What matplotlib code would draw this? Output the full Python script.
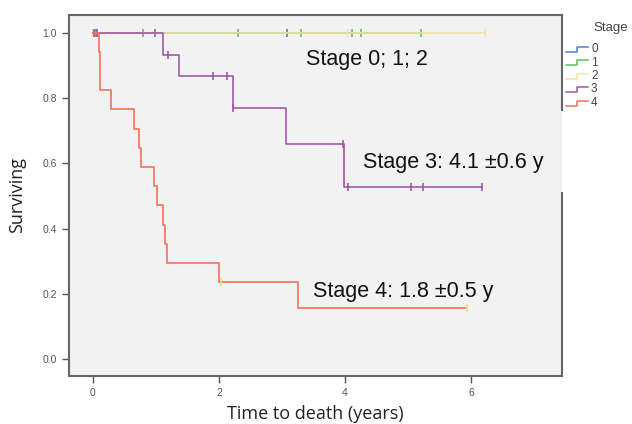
import numpy as np
import matplotlib
matplotlib.use("Agg")
import matplotlib.pyplot as plt
from matplotlib.lines import Line2D

# Kaplan-Meier steps (time in years, survival fraction)
stage4_t = [0, 0.10, 0.11, 0.12, 0.29, 0.65, 0.73, 0.77, 0.97, 1.01, 1.11, 1.14, 1.18, 2.00, 3.26, 5.93]
stage4_s = [1.0, 0.941, 0.882, 0.824, 0.765, 0.706, 0.647, 0.588, 0.529, 0.471, 0.412, 0.353, 0.294, 0.235, 0.157, 0.157]
stage4_cens = [2.03, 5.93]

stage3_t = [0, 1.11, 1.37, 2.22, 3.06, 3.99, 6.17]
stage3_s = [1.0, 0.933, 0.867, 0.770, 0.660, 0.528, 0.528]
stage3_cens = [0.02, 0.07, 1.19, 1.90, 2.13, 2.23, 3.97, 4.05, 5.05, 5.24, 6.17]

stage0_t = [0, 3.08]
stage0_s = [1.0, 1.0]
stage0_cens = [0.05, 0.98, 3.08]

stage1_t = [0, 5.20]
stage1_s = [1.0, 1.0]
stage1_cens = [0.03, 0.79, 2.30, 3.31, 4.11, 4.25, 5.20]

stage2_t = [0, 6.22]
stage2_s = [1.0, 1.0]
stage2_cens = [0.01, 4.03, 6.22]

stages = ["0", "1", "2", "3", "4"]
colors = ["#4f7fd6", "#5cc05c", "#efe2a6", "#a257aa", "#f3705a"]
cens_colors = ["#4f7fd6", "#5cc05c", "#efe2a6", "#a257aa", "#f2e07a"]

curves = [
    (stage0_t, stage0_s, stage0_cens),
    (stage1_t, stage1_s, stage1_cens),
    (stage2_t, stage2_s, stage2_cens),
    (stage3_t, stage3_s, stage3_cens),
    (stage4_t, stage4_s, stage4_cens),
]


def surv_at(times, surv, t):
    i = np.searchsorted(times, t, side="right") - 1
    return np.asarray(surv)[i]


fig = plt.figure(figsize=(6.32, 4.24), dpi=100)
ax = fig.add_axes([0.109, 0.113, 0.780, 0.852])
ax.set_facecolor("#f2f2f2")

for (t, s, c), col, ccol in zip(curves, colors, cens_colors):
    ax.step(t, s, where="post", color=col, lw=1.2)
    ax.plot(c, surv_at(t, s, c), ls="none", marker="|", ms=6, mew=1.2, color=ccol)

txt = dict(fontsize=15.5, family="Liberation Sans", color="#111111", va="center", ha="left")
ax.text(3.38, 0.917, "Stage 0; 1; 2", **txt)
ax.text(4.29, 0.604, "Stage 3: 4.1 \u00b10.6 y", **txt)
ax.text(3.49, 0.206, "Stage 4: 1.8 \u00b10.5 y", **txt)

ax.set_xlim(-0.38, 7.44)
ax.set_ylim(-0.052, 1.055)
ax.set_xticks([0, 2, 4, 6])
ax.set_yticks([0.0, 0.2, 0.4, 0.6, 0.8, 1.0])
ax.set_yticklabels(["0.0", "0.2", "0.4", "0.6", "0.8", "1.0"])
ax.tick_params(direction="out", length=5, width=1, color="#555555",
               labelsize=7.5, labelcolor="#555555")
for lab in ax.get_xticklabels() + ax.get_yticklabels():
    lab.set_family("Liberation Sans")

for side in ["left", "bottom", "top"]:
    ax.spines[side].set_color("#666666")
    ax.spines[side].set_linewidth(1.5)
ax.spines["right"].set_visible(False)
# right frame is broken behind the legend in the original
ax.plot([1, 1], [1, 0.737], transform=ax.transAxes, color="#666666", lw=1.5, clip_on=False)
ax.plot([1, 1], [0.507, 0], transform=ax.transAxes, color="#666666", lw=1.5, clip_on=False)

ax.set_xlabel("Time to death (years)", fontsize=13, family="Open Sans", color="#222222", labelpad=5)
ax.set_ylabel("Surviving", fontsize=13, family="Open Sans", color="#222222", labelpad=12)

# legend drawn by hand (step glyphs like SPSS)
W, H = 632, 424
fig.text(593 / W, 1 - 28 / H, "Stage", fontsize=9.5, family="Liberation Sans",
         color="#444444", va="center", ha="left")
for k, (lab, col) in enumerate(zip(stages, colors)):
    y = 49 + k * 13.5
    xs = np.array([566, 577, 577, 588]) / W
    ys = 1 - np.array([y + 2.5, y + 2.5, y - 2.5, y - 2.5]) / H
    fig.add_artist(Line2D(xs, ys, transform=fig.transFigure, color=col, lw=1.1))
    fig.text(591 / W, 1 - y / H, lab, fontsize=8.5, family="Liberation Sans",
             color="#444444", va="center", ha="left")

fig.savefig("out.png", dpi=100)
